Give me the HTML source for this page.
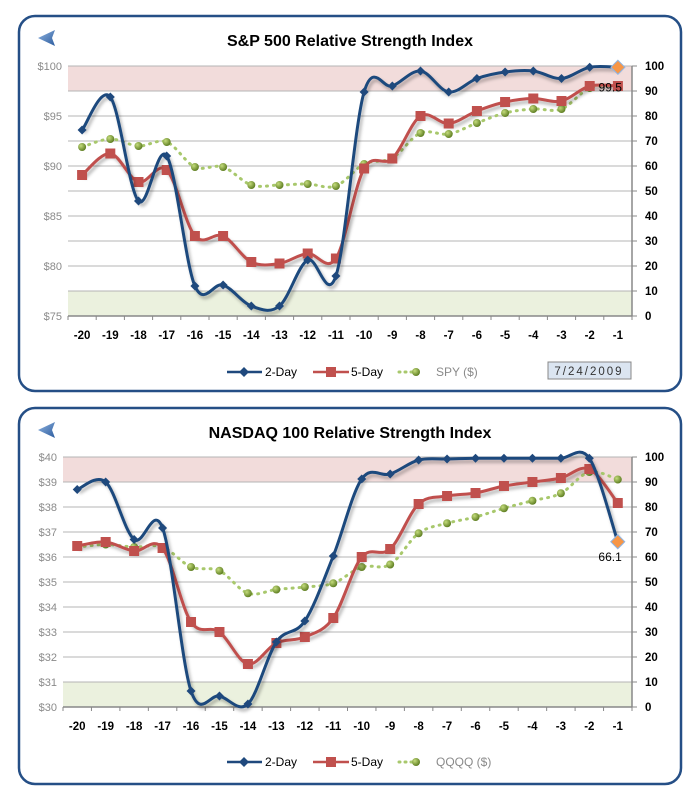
<!DOCTYPE html>
<html><head><meta charset="utf-8"><style>
body{margin:0;background:#fff;width:699px;height:800px;overflow:hidden;font-family:"Liberation Sans",sans-serif}
svg{position:absolute;left:0;top:0}
</style></head><body>
<svg id="s" width="699" height="800">
<defs>
<filter id="sh" x="-5%" y="-5%" width="110%" height="120%"><feDropShadow dx="2" dy="3" stdDeviation="1.5" flood-color="#000" flood-opacity="0.3"/></filter>
<linearGradient id="gb" x1="0" y1="0" x2="1" y2="1"><stop offset="0" stop-color="#8fb3e0"/><stop offset="1" stop-color="#2d5d9f"/></linearGradient>
<radialGradient id="gg" cx="0.35" cy="0.35" r="0.7"><stop offset="0" stop-color="#c4dc7c"/><stop offset="1" stop-color="#5a7a1e"/></radialGradient>
</defs>
</svg>
<script>
const cats=["-20","-19","-18","-17","-16","-15","-14","-13","-12","-11","-10","-9","-8","-7","-6","-5","-4","-3","-2","-1"];
const rightTicks=[0,10,20,30,40,50,60,70,80,90,100];
const spTwoDay=[74.4,87.6,46,64,12,12.4,4,4,22.4,16,89.6,92,98,89.6,95,97.6,98,95,99.5,99.5];
const spFiveDay=[56.4,65,53.6,58.4,32,32,21.6,21,25,23,59,63,80,77,82,85.6,87,86,92,92];
const spyPrice=[91.9,92.7,92,92.4,89.9,89.9,88.1,88.1,88.2,88,90.2,90.8,93.3,93.2,94.3,95.3,95.7,95.7,97.8,98];
const spLeftTicks=[75,80,85,90,95,100];
const ndTwoDay=[87,90,67,71.6,6.4,4.4,1.2,26,34.4,60.4,91.2,93.2,98.8,99.2,99.5,99.5,99.5,99.5,99.5,66.1];
const ndFiveDay=[64.4,66,62.4,63.6,34,30,17.2,25.6,28,35.6,60,63.2,81.2,84.4,85.6,88.4,90,91.6,95.2,81.6];
const qqqqPrice=[36.4,36.5,36.4,36.4,35.6,35.45,34.55,34.7,34.8,34.95,35.6,35.7,36.95,37.35,37.6,37.95,38.25,38.55,39.4,39.1];
const ndLeftTicks=[30,31,32,33,34,35,36,37,38,39,40];

const svg=document.getElementById('s');
const NS="http://www.w3.org/2000/svg";
function mk(tag,attrs,parent,txt){const e=document.createElementNS(NS,tag);for(const k in attrs)e.setAttribute(k,attrs[k]);if(txt!==undefined)e.textContent=txt;(parent||svg).appendChild(e);return e;}
function smooth(p){let d="M"+p[0][0]+","+p[0][1];for(let i=0;i<p.length-1;i++){const p0=p[i-1]||p[i],p1=p[i],p2=p[i+1],p3=p[i+2]||p2;const t=1/6;d+=" C"+(p1[0]+(p2[0]-p0[0])*t)+","+(p1[1]+(p2[1]-p0[1])*t)+" "+(p2[0]-(p3[0]-p1[0])*t)+","+(p2[1]-(p3[1]-p1[1])*t)+" "+p2[0]+","+p2[1];}return d;}

function chart(o){
  const g=mk('g',{});
  
  
  const fr=mk('rect',{x:19,y:o.top,width:662,height:o.h,rx:16,fill:'#fff',stroke:'#254f86','stroke-width':2.5},g);
  
  const ar=mk('path',{d:`M38,${o.top+22} L55,${o.top+14} L52,${o.top+22} L55,${o.top+30}Z`,fill:'url(#gb)'},g);
  
  const ti=mk('text',{x:350,y:o.top+30,'text-anchor':'middle','font-size':16,'font-weight':'bold',fill:'#000'},g,o.title);
  
  const L=o.L,R=632,T=o.T,B=o.T+250,W=(R-L)/cats.length;
  const X=i=>L+W*(i+0.5);
  const Y=v=>B-(v/100)*(B-T);
  const YL=p=>B-(p-o.lt[0])/(o.lt[o.lt.length-1]-o.lt[0])*(B-T);
  const b1=mk('rect',{x:L,y:Y(100),width:R-L,height:Y(90)-Y(100),fill:'#f2dcdb'},g);
  
  const b2=mk('rect',{x:L,y:Y(10),width:R-L,height:Y(0)-Y(10),fill:'#ebf1de'},g);
  
  rightTicks.forEach(t=>{
    const gl=mk('line',{x1:L,x2:R,y1:Y(t),y2:Y(t),stroke:'#b4b4b4','stroke-width':1},g);
    
    mk('line',{x1:R,x2:R+5,y1:Y(t),y2:Y(t),stroke:'#888'},g);
    const tl=mk('text',{x:R+13,y:Y(t)+4,'font-size':11.5,'font-weight':'bold',fill:'#000'},g,String(t));
    
  });
  o.lt.forEach(t=>{
    const tl=mk('text',{x:L-6,y:YL(t)+4,'font-size':11,fill:'#8a8a8a','text-anchor':'end'},g,'$'+t);
    
  });
  mk('line',{x1:R,x2:R,y1:T,y2:B,stroke:'#888','stroke-width':1.5},g);
  mk('line',{x1:L,x2:R,y1:B,y2:B,stroke:'#888','stroke-width':1.5},g);
  cats.forEach((c,i)=>{
    mk('line',{x1:L+W*i,x2:L+W*i,y1:B,y2:B+4,stroke:'#888'},g);
    const cl=mk('text',{x:X(i),y:B+23,'font-size':11.5,'font-weight':'bold','text-anchor':'middle',fill:'#000'},g,c);
    
  });
  mk('line',{x1:R,x2:R,y1:B,y2:B+4,stroke:'#888'},g);
  // price series
  const pp=o.price.map((v,i)=>[X(i),YL(v)]);
  const pl=mk('path',{d:smooth(pp),fill:'none',stroke:'#a8c86c','stroke-width':3,'stroke-dasharray':'1 6','stroke-linecap':'round'},g);
  
  pp.forEach(p=>{const c=mk('circle',{cx:p[0],cy:p[1],r:4,fill:'url(#gg)'},g);});
  // 5-day
  const p5=o.five.map((v,i)=>[X(i),Y(v)]);
  const l5=mk('path',{d:smooth(p5),fill:'none',stroke:'#c0504d','stroke-width':3,filter:'url(#sh)'},g);
  
  p5.forEach(p=>{const r=mk('rect',{x:p[0]-5,y:p[1]-5,width:10,height:10,fill:'#c0504d'},g);});
  // 2-day
  const p2=o.two.map((v,i)=>[X(i),Y(v)]);
  const l2=mk('path',{d:smooth(p2),fill:'none',stroke:'#1f497d','stroke-width':3,filter:'url(#sh)'},g);
  
  p2.forEach((p,i)=>{const last=i===p2.length-1;const s=last?7:4.5;
    const d=mk('path',{d:`M${p[0]},${p[1]-s} L${p[0]+s},${p[1]} L${p[0]},${p[1]+s} L${p[0]-s},${p[1]}Z`,fill:last?'#f79646':'#1f497d',stroke:last?'#8eb4e3':'none'},g);
    });
  const lv=o.two[o.two.length-1];
  const vl=mk('text',{x:X(cats.length-1)+o.lblDx,y:Y(lv)+o.lblDy,'font-size':12,'text-anchor':'end',fill:'#000'},g,String(lv));
  
  // legend
  const ly=o.legY;
  const lg=mk('g',{},g);
  mk('line',{x1:227,x2:262,y1:ly,y2:ly,stroke:'#1f497d','stroke-width':2.5},lg);
  mk('path',{d:`M244,${ly-5} L249,${ly} L244,${ly+5} L239,${ly}Z`,fill:'#1f497d'},lg);
  const t1=mk('text',{x:265,y:ly+4,'font-size':12,fill:'#000'},lg,'2-Day');
  mk('line',{x1:313,x2:349,y1:ly,y2:ly,stroke:'#c0504d','stroke-width':2.5},lg);
  mk('rect',{x:326,y:ly-5,width:10,height:10,fill:'#c0504d'},lg);
  const t2=mk('text',{x:351,y:ly+4,'font-size':12,fill:'#000'},lg,'5-Day');
  mk('line',{x1:399,x2:423,y1:ly,y2:ly,stroke:'#a8c86c','stroke-width':3,'stroke-dasharray':'1 5','stroke-linecap':'round'},lg);
  mk('circle',{cx:416,cy:ly,r:4,fill:'url(#gg)'},lg);
  const t3=mk('text',{x:436,y:ly+4,'font-size':12,fill:'#8a8a8a'},lg,o.priceName);
  if(o.date){
    const db=mk('rect',{x:548,y:ly-10,width:83,height:17,fill:'#dbe5f1',stroke:'#888'},g);
    
    mk('text',{x:589,y:ly+3,'font-size':11.5,'text-anchor':'middle',fill:'#333','letter-spacing':'2'},g,o.date);
  }
}
chart({name:'sp500-rsi-chart',top:16,h:375,title:'S&P 500 Relative Strength Index',L:68,T:66,lt:spLeftTicks,two:spTwoDay,five:spFiveDay,price:spyPrice,priceName:'SPY ($)',legY:372,date:'7/24/2009',lblDx:4,lblDy:24});
chart({name:'nasdaq100-rsi-chart',top:408,h:376,title:'NASDAQ 100 Relative Strength Index',L:63,T:457,lt:ndLeftTicks,two:ndTwoDay,five:ndFiveDay,price:qqqqPrice,priceName:'QQQQ ($)',legY:762,lblDx:4,lblDy:19});
</script>
</body></html>
